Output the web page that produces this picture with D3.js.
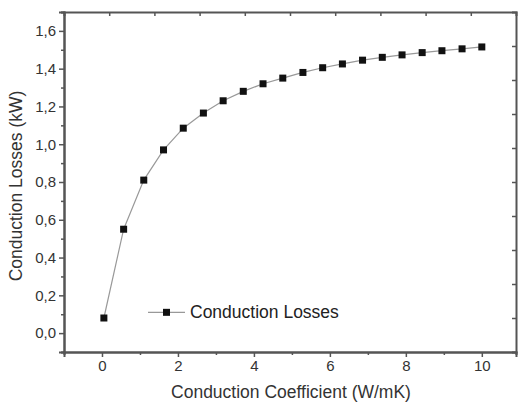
<!DOCTYPE html>
<html>

<head>
  <script src="https://d3js.org/d3.v7.min.js"></script>
  <style>
    body {
      margin: 0;
      background: #ffffff;
      font-family: Arial, "Liberation Sans", sans-serif;
    }

    .tick text {
      font-size: 15px;
      fill: #333;
    }
  </style>
</head>

<body>
  <svg id="chart"></svg>

  <script>
    // Data
    const coefficient = [0.05, 0.57, 1.1, 1.62, 2.14, 2.67, 3.19, 3.72, 4.24, 4.76,
      5.29, 5.81, 6.33, 6.86, 7.38, 7.9, 8.43, 8.95, 9.48, 10.0];
    const losses = [0.08, 0.55, 0.81, 0.97, 1.085, 1.165, 1.23, 1.28, 1.32, 1.35,
      1.38, 1.405, 1.425, 1.445, 1.46, 1.473, 1.485, 1.495, 1.505, 1.515];
    const xTicks = [0, 2, 4, 6, 8, 10];
    const yTicks = [0, 0.2, 0.4, 0.6, 0.8, 1.0, 1.2, 1.4, 1.6];
    const seriesName = "Conduction Losses";

    const width = 519;
    const height = 403;
    const margin = { top: 12, right: 3, bottom: 51, left: 64 };
    const innerW = width - margin.left - margin.right;
    const innerH = height - margin.top - margin.bottom;

    const svg = d3
      .select("#chart")
      .attr("width", width)
      .attr("height", height);

    const g = svg
      .append("g")
      .attr("transform", `translate(${margin.left},${margin.top})`);

    // Scales
    const x = d3.scaleLinear().domain([-1, 10.9]).range([0, innerW]);
    const y = d3.scaleLinear().domain([-0.1, 1.7]).range([innerH, 0]);
    // top and right frame ticks split the box into tenths
    const xFrame = d3.scaleLinear().domain([0, 10]).range([0, innerW]);
    const yFrame = d3.scaleLinear().domain([0, 10]).range([innerH, 0]);

    const fmt = (d) => d3.format(".1f")(d).replace(".", ",");
    const axisColor = "#555";

    // Bottom axis
    g.append("g")
      .attr("transform", `translate(0,${innerH})`)
      .call(d3.axisBottom(x).tickValues(xTicks).tickSize(5).tickPadding(3).tickFormat(d3.format("d")));
    g.append("g")
      .attr("transform", `translate(0,${innerH})`)
      .call(d3.axisBottom(x).tickValues([1, 3, 5, 7, 9]).tickSize(3).tickFormat(""));

    // Left axis
    g.append("g")
      .call(d3.axisLeft(y).tickValues(yTicks).tickSize(5).tickPadding(3).tickFormat(fmt));
    g.append("g")
      .call(d3.axisLeft(y).tickValues(d3.range(-0.1, 1.75, 0.2)).tickSize(3).tickFormat(""));

    // Top and right frame with inward ticks
    g.append("g")
      .call(d3.axisBottom(xFrame).tickValues(d3.range(1, 10)).tickSize(4).tickFormat(""));
    g.append("g")
      .attr("transform", `translate(${innerW},0)`)
      .call(d3.axisLeft(yFrame).tickValues(d3.range(1, 10)).tickSize(4).tickFormat(""));

    g.selectAll(".domain, .tick line")
      .attr("stroke", axisColor)
      .attr("stroke-width", 1.5);
    g.selectAll(".domain").attr("stroke-width", 2);

    // Line + markers
    const points = coefficient.map((c, i) => ({ x: c, y: losses[i] }));

    g.append("path")
      .datum(points)
      .attr("fill", "none")
      .attr("stroke", "#999")
      .attr("stroke-width", 1.2)
      .attr("d", d3.line().x((d) => x(d.x)).y((d) => y(d.y)));

    g.selectAll("rect.marker")
      .data(points)
      .enter()
      .append("rect")
      .attr("class", "marker")
      .attr("x", (d) => x(d.x) - 3.5)
      .attr("y", (d) => y(d.y) - 3.5)
      .attr("width", 7)
      .attr("height", 7)
      .attr("fill", "#111");

    // Legend
    const legend = g.append("g").attr("transform", `translate(84,${y(0.11)})`);
    legend.append("line")
      .attr("x1", 0).attr("x2", 37)
      .attr("stroke", "#999").attr("stroke-width", 1.2);
    legend.append("rect")
      .attr("x", 15).attr("y", -3.5)
      .attr("width", 7).attr("height", 7)
      .attr("fill", "#111");
    legend.append("text")
      .attr("x", 42)
      .attr("dy", "0.35em")
      .attr("font-size", 17.5)
      .attr("fill", "#222")
      .text(seriesName);

    // Axis titles
    svg.append("text")
      .attr("x", margin.left + innerW / 2 + 1)
      .attr("y", 398)
      .attr("text-anchor", "middle")
      .attr("font-size", 17.5)
      .attr("fill", "#333")
      .text("Conduction Coefficient (W/mK)");

    svg.append("text")
      .attr("transform", `translate(22,${margin.top + innerH / 2 + 4}) rotate(-90)`)
      .attr("text-anchor", "middle")
      .attr("font-size", 17.5)
      .attr("fill", "#333")
      .text("Conduction Losses (kW)");
  </script>
</body>

</html>
